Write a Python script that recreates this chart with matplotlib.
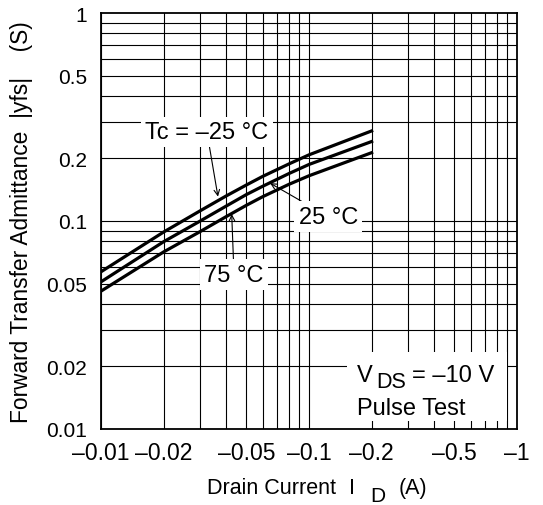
import matplotlib
matplotlib.use("Agg")
import matplotlib.pyplot as plt
from matplotlib.patches import Rectangle
from matplotlib.ticker import FixedLocator, NullLocator

plt.rcParams['font.family'] = ['Liberation Sans', 'DejaVu Sans']

# drain current magnitude (A), shown as negative values on the axis
drain_current = [0.01, 0.02, 0.03, 0.04, 0.05, 0.06, 0.08, 0.1, 0.2]
yfs_m25 = [0.057, 0.0885, 0.112, 0.132, 0.149, 0.164, 0.188, 0.208, 0.271]
yfs_25 = [0.051, 0.0795, 0.100, 0.118, 0.134, 0.147, 0.169, 0.187, 0.241]
yfs_75 = [0.046, 0.071, 0.089, 0.105, 0.119, 0.131, 0.150, 0.165, 0.213]

x_ticks = [0.01, 0.02, 0.05, 0.1, 0.2, 0.5, 1]
x_labels = ['–0.01', '–0.02', '–0.05', '–0.1', '–0.2', '–0.5', '–1']
y_ticks = [0.01, 0.02, 0.05, 0.1, 0.2, 0.5, 1]
y_labels = ['0.01', '0.02', '0.05', '0.1', '0.2', '0.5', '1']

W, H = 543, 506
fig = plt.figure(figsize=(W / 100, H / 100), dpi=100)
ax = fig.add_axes([101 / W, 1 - 430 / H, 416 / W, 416 / H])
ax.set_xscale('log')
ax.set_yscale('log')
ax.set_xlim(0.01, 1)
ax.set_ylim(0.01, 1)

# grid at 1..9 of each decade
grid = [m * 10.0 ** e for e in (-2, -1) for m in range(1, 10)]
for g in grid:
    ax.axvline(g, color='black', lw=0.8, zorder=1)
    ax.axhline(g, color='black', lw=0.8, zorder=1)

for ys in (yfs_m25, yfs_25, yfs_75):
    ax.plot(drain_current, ys, color='black', lw=2.3, zorder=3,
            solid_joinstyle='round')

ax.xaxis.set_major_locator(FixedLocator(x_ticks))
ax.xaxis.set_minor_locator(NullLocator())
ax.set_xticklabels(x_labels)
ax.yaxis.set_major_locator(FixedLocator(y_ticks))
ax.yaxis.set_minor_locator(NullLocator())
ax.set_yticklabels(y_labels)
ax.tick_params(length=0)
ax.tick_params(axis='x', labelsize=16.5, pad=9)
ax.tick_params(axis='y', labelsize=15, pad=10)
for s in ax.spines.values():
    s.set_linewidth(1.3)
    s.set_zorder(5)

box = dict(facecolor='white', edgecolor='none', pad=3)
arrow = dict(arrowstyle='->', color='black', lw=0.8, shrinkA=0, shrinkB=0,
             mutation_scale=10)
ax.annotate('Tc = –25 °C', xy=(0.0365, 0.131), xytext=(0.0323, 0.268),
            ha='center', va='center', fontsize=17, bbox=box,
            arrowprops=arrow, zorder=4)
ax.annotate('25 °C', xy=(0.065, 0.152), xytext=(0.1237, 0.105),
            ha='center', va='center', fontsize=17, bbox=box,
            arrowprops=arrow, zorder=4)
ax.annotate('75 °C', xy=(0.0425, 0.108), xytext=(0.0436, 0.0553),
            ha='center', va='center', fontsize=17, bbox=box,
            arrowprops=arrow, zorder=4)

# condition box, lower right
ax.add_patch(Rectangle((0.591, 0.019), 0.385, 0.166, transform=ax.transAxes,
                       facecolor='white', edgecolor='none', zorder=2))


def ftext(x, y, s, size):
    fig.text(x / W, 1 - y / H, s, fontsize=size, va='baseline', ha='left')


ftext(357, 382, 'V', 17)
ftext(376, 388, 'DS', 15.5)
ftext(412, 382, '= –10 V', 17)
ftext(357, 415, 'Pulse Test', 17)

# x label with lowered subscript
ftext(207, 494, 'Drain Current', 15.5)
ftext(349, 494, 'I', 15.5)
ftext(370, 502, 'D', 15)
ftext(399, 494, '(A)', 15.5)

ax.set_ylabel('Forward Transfer Admittance  |yfs|    (S)', fontsize=16.4,
              labelpad=10)
ax.yaxis.set_label_coords(-68 / 416, 0.5)

fig.savefig('out.png', dpi=100)
